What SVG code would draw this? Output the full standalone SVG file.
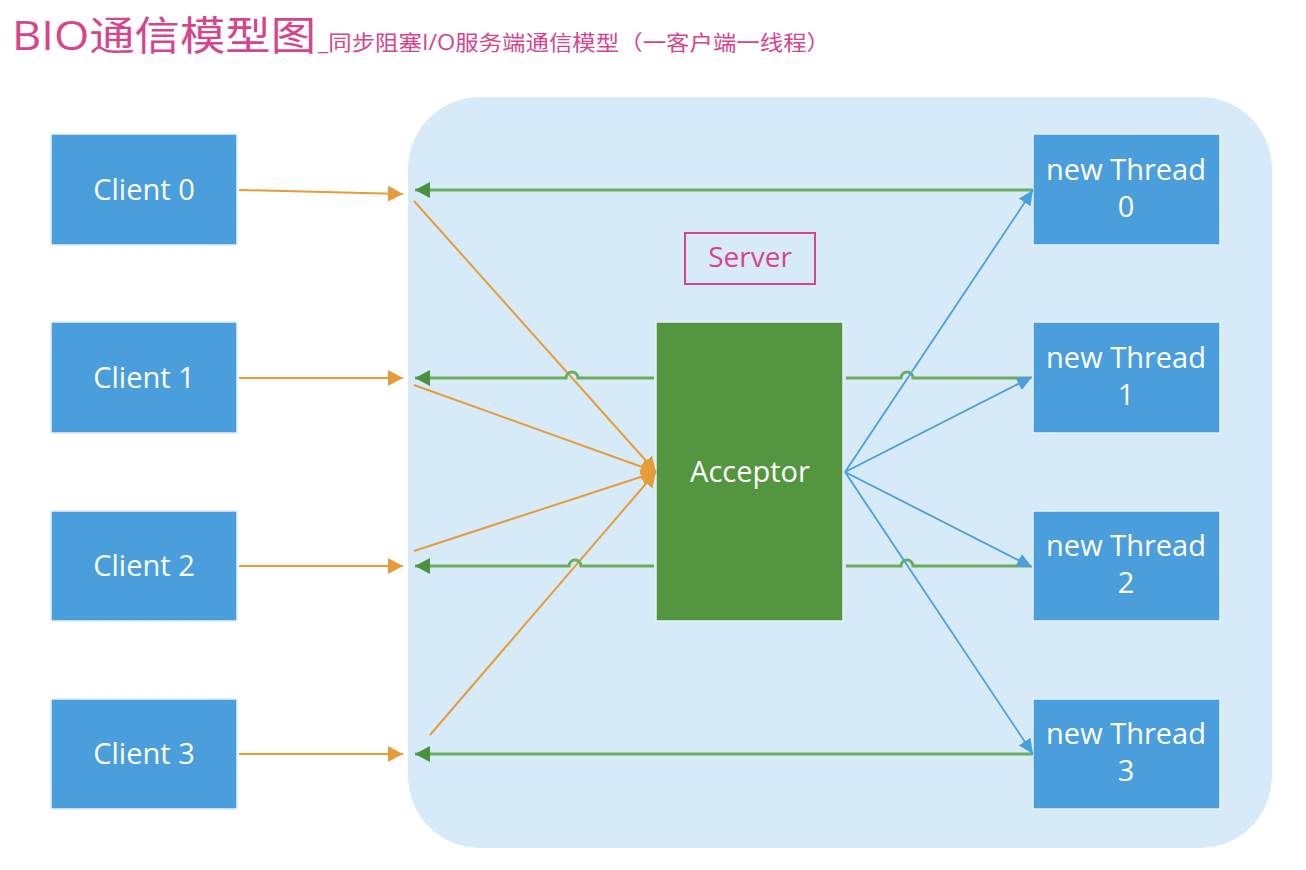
<svg xmlns="http://www.w3.org/2000/svg" width="1306" height="870" viewBox="0 0 1306 870">
<defs>
<style>
.box{fill:#4a9edb;stroke:#e6f1fa;stroke-width:1.5}
.lbl{font-family:"Open Sans","Noto Sans",sans-serif;font-size:29px;fill:#ffffff;text-anchor:middle}
.org{stroke:#e59c3a;stroke-width:2;fill:none}
.grn{stroke:#6aae5d;stroke-width:3;fill:none}
.blu{stroke:#4a9edb;stroke-width:1.8;fill:none}
.pink{fill:#d6458c;font-family:"Open Sans","Noto Sans CJK SC",sans-serif}
</style>
<marker id="mo" markerUnits="userSpaceOnUse" markerWidth="16" markerHeight="16" refX="15" refY="8" orient="auto" viewBox="0 0 16 16"><path d="M0,0 L15,8 L0,16 Z" fill="#e59c3a"/></marker>
<marker id="mg" markerUnits="userSpaceOnUse" markerWidth="16" markerHeight="16" refX="15" refY="8" orient="auto" viewBox="0 0 16 16"><path d="M0,0 L15,8 L0,16 Z" fill="#4b9140"/></marker>
<marker id="mb" markerUnits="userSpaceOnUse" markerWidth="16" markerHeight="14" refX="15" refY="7" orient="auto" viewBox="0 0 16 14"><path d="M0,0 L15,7 L0,14 Z" fill="#4a9edb"/></marker>
</defs>
<rect width="1306" height="870" fill="#ffffff"/>
<g id="title">
<text class="pink" x="12" y="50" font-size="40" textLength="304" lengthAdjust="spacingAndGlyphs">BIO通信模型图</text>
<text class="pink" x="318" y="50" font-size="21" textLength="512" lengthAdjust="spacingAndGlyphs">_同步阻塞I/O服务端通信模型（一客户端一线程）</text>
</g>
<g id="server">
<rect x="408" y="97" width="864" height="751" rx="72" ry="72" fill="#d7eaf7"/>
<rect x="685" y="233" width="130" height="51" fill="none" stroke="#d6458c" stroke-width="2"/>
<text x="750" y="267" font-family="Open Sans, Noto Sans, sans-serif" font-size="28" fill="#d6458c" text-anchor="middle">Server</text>
</g>
<g id="client0"><rect class="box" x="51" y="134" width="186" height="111"/><text class="lbl" x="144" y="200">Client 0</text></g>
<g id="client1"><rect class="box" x="51" y="322" width="186" height="111"/><text class="lbl" x="144" y="388">Client 1</text></g>
<g id="client2"><rect class="box" x="51" y="511" width="186" height="110"/><text class="lbl" x="144" y="576">Client 2</text></g>
<g id="client3"><rect class="box" x="51" y="699" width="186" height="110"/><text class="lbl" x="144" y="764">Client 3</text></g>
<g id="acceptor"><rect x="656" y="322" width="187" height="299" fill="#54963f" stroke="#e6f1fa" stroke-width="1.5"/><text class="lbl" x="750" y="482">Acceptor</text></g>
<g id="thread0"><rect class="box" x="1033" y="134" width="187" height="111"/><text class="lbl" x="1126" y="180">new Thread</text><text class="lbl" x="1126" y="217">0</text></g>
<g id="thread1"><rect class="box" x="1033" y="322" width="187" height="111"/><text class="lbl" x="1126" y="368">new Thread</text><text class="lbl" x="1126" y="405">1</text></g>
<g id="thread2"><rect class="box" x="1033" y="511" width="187" height="110"/><text class="lbl" x="1126" y="556">new Thread</text><text class="lbl" x="1126" y="593">2</text></g>
<g id="thread3"><rect class="box" x="1033" y="699" width="187" height="110"/><text class="lbl" x="1126" y="744">new Thread</text><text class="lbl" x="1126" y="781">3</text></g>
<g id="connectors">
<line class="org" x1="239" y1="190" x2="403" y2="194" marker-end="url(#mo)"/>
<line class="org" x1="239" y1="378" x2="403" y2="378" marker-end="url(#mo)"/>
<line class="org" x1="239" y1="566" x2="403" y2="566" marker-end="url(#mo)"/>
<line class="org" x1="239" y1="754" x2="403" y2="754" marker-end="url(#mo)"/>
<line class="org" x1="414" y1="201" x2="656" y2="472" marker-end="url(#mo)"/>
<line class="org" x1="414" y1="385" x2="656" y2="472" marker-end="url(#mo)"/>
<line class="org" x1="414" y1="551" x2="656" y2="472" marker-end="url(#mo)"/>
<line class="org" x1="430" y1="735" x2="656" y2="472" marker-end="url(#mo)"/>
<path class="grn" d="M1033,190 H415" marker-end="url(#mg)"/>
<path class="grn" d="M654,378 H578 a6,6 0 0 0 -12,0 H415" marker-end="url(#mg)"/>
<path class="grn" d="M654,566 H581 a6,6 0 0 0 -12,0 H415" marker-end="url(#mg)"/>
<path class="grn" d="M1033,754 H415" marker-end="url(#mg)"/>
<path class="grn" d="M846,378 H901 a6,6 0 0 1 12,0 H1031"/>
<path class="grn" d="M846,566 H901 a6,6 0 0 1 12,0 H1031"/>
<line class="blu" x1="845" y1="472" x2="1033" y2="190" marker-end="url(#mb)"/>
<line class="blu" x1="845" y1="472" x2="1032" y2="377" marker-end="url(#mb)"/>
<line class="blu" x1="845" y1="472" x2="1032" y2="567" marker-end="url(#mb)"/>
<line class="blu" x1="845" y1="472" x2="1033" y2="754" marker-end="url(#mb)"/>
</g>
</svg>
